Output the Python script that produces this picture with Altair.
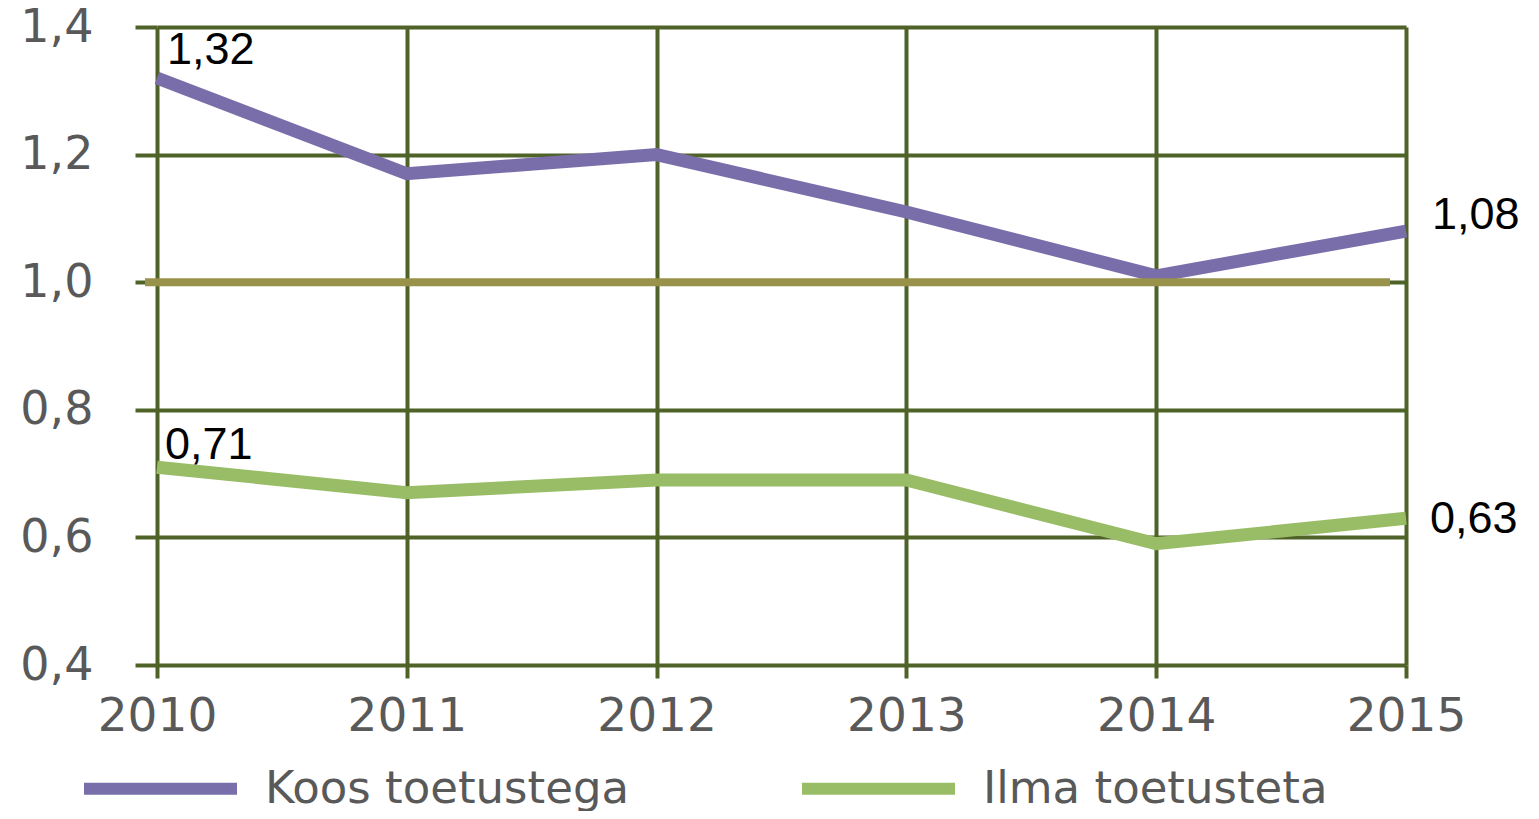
import altair as alt
import pandas as pd

years = ["2010", "2011", "2012", "2013", "2014", "2015"]
koos = [1.32, 1.17, 1.20, 1.11, 1.01, 1.08]
ilma = [0.71, 0.67, 0.69, 0.69, 0.59, 0.63]
series_names = ["Koos toetustega", "Ilma toetusteta"]
series_colors = ["#7A6EAA", "#98BD66"]
ref_value = [1.0]

rows = []
for y, v in zip(years, koos):
    rows.append({"year": y, "value": v, "series": series_names[0]})
for y, v in zip(years, ilma):
    rows.append({"year": y, "value": v, "series": series_names[1]})
df = pd.DataFrame(rows)

GRID = "#4F6228"
LABEL = "#595959"
AXFONT = "DejaVu Sans"
W, H = 1249, 638

x_enc = alt.X("year:O", scale=alt.Scale(type="point", padding=0, domain=years),
              axis=alt.Axis(title=None, grid=True, gridColor=GRID, gridWidth=4,
                            tickColor=GRID, tickWidth=4, tickSize=13,
                            domain=False, labelAngle=0, labelFont=AXFONT,
                            labelFontSize=47, labelColor=LABEL, labelPadding=15,
                            labelBaseline="top"))
y_enc = alt.Y("value:Q", scale=alt.Scale(domain=[0.4, 1.4], nice=False, zero=False),
              axis=alt.Axis(title=None, values=[0.4, 0.6, 0.8, 1.0, 1.2, 1.4],
                            grid=True, gridColor=GRID, gridWidth=4,
                            tickColor=GRID, tickWidth=4, tickSize=22,
                            domain=False, labelFont=AXFONT, labelFontSize=46,
                            labelColor=LABEL, labelPadding=42,
                            labelExpr="replace(format(datum.value, '.1f'), '.', ',')"))

lines = alt.Chart(df).mark_line(strokeWidth=13, strokeCap="butt", strokeJoin="miter").encode(
    x=x_enc,
    y=y_enc,
    color=alt.Color("series:N", scale=alt.Scale(domain=series_names, range=series_colors),
                    legend=alt.Legend(title=None, orient="none", direction="horizontal",
                                      legendX=-79, legendY=679,
                                      symbolType="stroke", symbolSize=23409,
                                      symbolStrokeWidth=12, labelFont=AXFONT,
                                      labelFontSize=45, labelColor=LABEL,
                                      labelLimit=0, labelOffset=22, columnPadding=148,
                                      symbolOffset=0)),
)

ref = alt.Chart(pd.DataFrame({"v": ref_value})).mark_rule(color="#99924A", strokeWidth=8).encode(
    y=alt.Y("v:Q", scale=alt.Scale(domain=[0.4, 1.4], nice=False, zero=False)),
    x=alt.value(-12), x2=alt.value(1233),
)

def label(series, year, dx, dy):
    d = df[(df.series == series) & (df.year == year)].copy()
    d["txt"] = d["value"].map(lambda v: f"{v:.2f}".replace(".", ","))
    return alt.Chart(d).mark_text(align="left", baseline="middle", dx=dx, dy=dy,
                                  font="Liberation Sans", fontSize=45, color="black").encode(
        x=alt.X("year:O", scale=alt.Scale(type="point", padding=0, domain=years)),
        y=alt.Y("value:Q", scale=alt.Scale(domain=[0.4, 1.4], nice=False, zero=False)),
        text="txt:N",
    )

labels = [
    label(series_names[0], "2010", 10, -28),
    label(series_names[1], "2010", 8, -22),
    label(series_names[0], "2015", 26, -16),
    label(series_names[1], "2015", 24, 1),
]

chart = alt.layer(lines, ref, *labels).properties(
    width=W, height=H,
    autosize=alt.AutoSizeParams(type="none"),
    padding={"left": 149, "top": 19, "right": 120, "bottom": 146},
).configure_view(stroke=None)

chart.save("out.html", embed_options={"renderer": "svg", "actions": False})
